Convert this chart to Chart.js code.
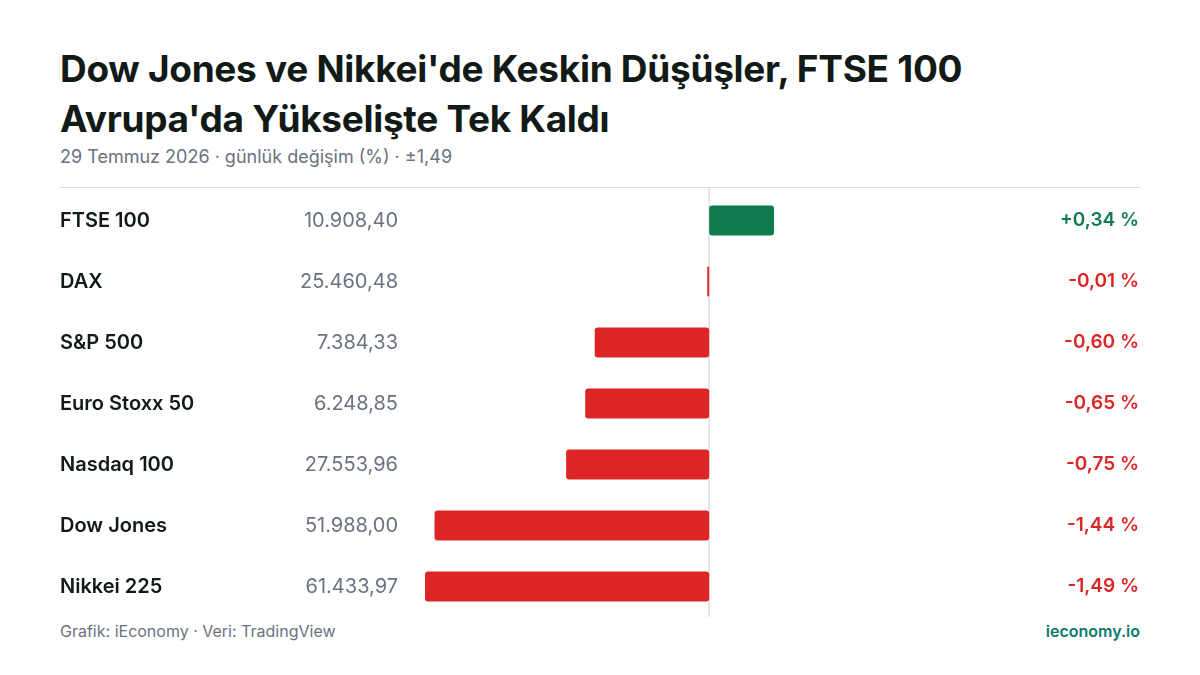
<!DOCTYPE html>
<html><head><meta charset="utf-8">
<script src="https://cdn.jsdelivr.net/npm/chart.js@4/dist/chart.umd.min.js"></script>
<style>
html,body{margin:0;padding:0;background:#fff;width:1200px;height:675px;overflow:hidden;font-family:Inter,sans-serif}
#t{position:absolute;left:60px;top:44px;font-size:37px;font-weight:700;line-height:50px;color:#111a16;letter-spacing:-0.3px}
#s{position:absolute;left:60px;top:146px;font-size:18px;color:#6b7280}
#hr{position:absolute;left:60px;top:187px;width:1080px;height:1px;background:#dcdcdc}
#f1{position:absolute;left:60px;top:621px;font-size:16px;color:#6b7280}
#f2{position:absolute;right:60px;top:621px;font-size:16px;font-weight:600;color:#0e7a6a}
canvas{position:absolute;left:0;top:0}
</style></head><body>
<div id="t">Dow Jones ve Nikkei'de Keskin Düşüşler, FTSE 100<br>Avrupa'da Yükselişte Tek Kaldı</div>
<div id="s">29 Temmuz 2026 · günlük değişim (%) · ±1,49</div>
<div id="hr"></div>
<div id="f1">Grafik: iEconomy · Veri: TradingView</div>
<div id="f2">ieconomy.io</div>
<canvas id="c" width="1200" height="675"></canvas>
<script>
const names=["FTSE 100","DAX","S&P 500","Euro Stoxx 50","Nasdaq 100","Dow Jones","Nikkei 225"];
const levels=["10.908,40","25.460,48","7.384,33","6.248,85","27.553,96","51.988,00","61.433,97"];
const changes=[0.34,-0.01,-0.60,-0.65,-0.75,-1.44,-1.49];
const GREEN="#0f7b4f",RED="#dc2626";
const fmt=v=>(v>0?"+":"")+v.toFixed(2).replace(".",",")+" %";
const labels={id:"labels",
 beforeDatasetsDraw(ch){const c=ch.ctx,x=ch.scales.x,y=ch.scales.y;c.save();
  c.strokeStyle="#dedede";c.lineWidth=1.5;const x0=x.getPixelForValue(0);
  c.beginPath();c.moveTo(x0,188);c.lineTo(x0,617);c.stroke();c.restore();},
 afterDatasetsDraw(ch){const c=ch.ctx,y=ch.scales.y;c.save();c.textBaseline="middle";
  names.forEach((n,i)=>{const py=y.getPixelForValue(i);
   c.font="600 20px Inter";c.fillStyle="#111a16";c.textAlign="left";c.fillText(n,60,py);
   c.font="400 20px Inter";c.fillStyle="#6b7280";c.textAlign="right";c.fillText(levels[i],398,py);
   c.font="600 19px Inter";c.fillStyle=changes[i]>=0?GREEN:RED;c.fillText(fmt(changes[i]),1139,py);});
  c.restore();}};
new Chart(document.getElementById("c"),{type:"bar",
 data:{labels:names,datasets:[{data:changes,backgroundColor:changes.map(v=>v>=0?GREEN:RED),
  borderRadius:3,borderSkipped:false,barPercentage:0.49,categoryPercentage:1}]},
 options:{indexAxis:"y",responsive:false,animation:false,
  layout:{padding:{left:425,right:426,top:190,bottom:58}},
  plugins:{legend:{display:false},tooltip:{enabled:false}},
  scales:{x:{display:false,min:-1.49,max:0.34},y:{display:false}}},
 plugins:[labels]});
</script></body></html>
